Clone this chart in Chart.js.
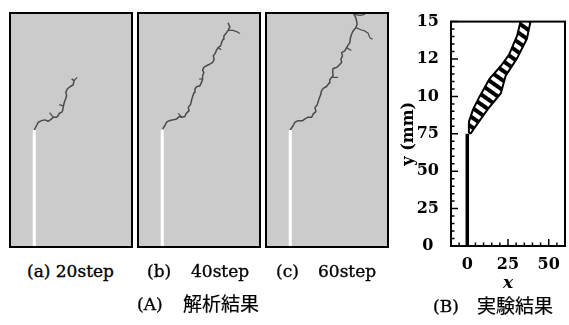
<!DOCTYPE html>
<html>
<head>
<meta charset="utf-8">
<script src="https://cdn.jsdelivr.net/npm/chart.js@4.4.1/dist/chart.umd.min.js"></script>
<style>
  body { margin: 0; background: #fff; width: 569px; height: 325px; position: relative; overflow: hidden; font-family: "DejaVu Serif", serif; color: #000; }
  canvas { position: absolute; }
  .cap { position: absolute; font-size: 17px; line-height: 20px; white-space: nowrap; -webkit-text-stroke: 0.35px #000; }
  .jp { font-family: "Noto Sans CJK JP", sans-serif; font-size: 19px; -webkit-text-stroke: 0.2px #000; }
</style>
</head>
<body>
<canvas id="p20" width="128" height="240" style="left:7px;top:10px"></canvas>
<canvas id="p40" width="128" height="240" style="left:135px;top:10px"></canvas>
<canvas id="p60" width="128" height="240" style="left:263px;top:10px"></canvas>
<canvas id="exp" width="174" height="295" style="left:395px;top:0"></canvas>

<div class="cap" style="left:27px;top:261px">(a) 20step</div>
<div class="cap" style="left:147px;top:261px">(b)</div>
<div class="cap" style="left:191px;top:261px">40step</div>
<div class="cap" style="left:276px;top:261px">(c)</div>
<div class="cap" style="left:318px;top:261px">60step</div>
<div class="cap" style="left:137px;top:294px">(A)</div>
<div class="cap jp" style="left:183px;top:293px">解析結果</div>
<div class="cap" style="left:433px;top:296px">(B)</div>
<div class="cap jp" style="left:477px;top:295px">実験結果</div>

<script>
// analysis panels: specimen coordinates in mm (x 0..78, y 0..150)
const NOTCH = [[15.5, 0], [15.5, 75]]

const CRACK_20 = [[15.5,75],[17.0,77.9],[18.1,80.0],[20.2,81.0],[22.3,81.5],[24.4,80.6],[26.6,82.1],[27.6,83.2],[29.8,83.2],[30.8,84.2],[31.5,85.7],[33.0,86.3],[33.6,87.4],[34.0,89.5],[34.7,92.7],[35.5,94.9],[36.2,97.0],[35.7,99.1],[36.6,101.3],[38.3,102.7],[40.4,104.0],[41.0,106.6],[39.4,107.7]]
const BRANCH_20 = [[[41.0,106.6],[42.9,108.7]], [[27.6,83.2],[25.3,86.1]], [[34.0,90.5],[31.5,91.3]]]

const CRACK_40 = [[15.8,75.7],[17.2,77.9],[18.3,80.0],[20.0,81.0],[22.5,81.5],[24.7,82.1],[26.4,83.6],[27.9,83.2],[30.0,83.6],[30.6,85.3],[31.5,86.3],[32.7,87.4],[32.1,89.5],[33.6,91.3],[34.3,94.3],[34.9,96.4],[35.9,99.1],[36.4,101.3],[37.5,102.7],[39.6,103.4],[40.6,105.5],[41.3,107.7],[41.3,109.8],[42.1,111.9],[41.3,113.4],[42.1,115.1],[43.8,116.2],[45.9,117.2],[47.7,118.3],[48.7,120.4],[48.1,122.5],[49.3,124.0],[50.2,126.2],[51.2,127.8],[52.8,128.9],[53.4,131.0],[54.4,133.2],[54.9,135.3],[56.2,136.8],[57.6,138.9],[58.7,141.0],[57.6,143.8]]
const BRANCH_40 = [[[57.6,138.9],[60.8,138.9],[63.0,138.1],[65.1,136.8]], [[27.9,83.2],[25.7,85.7]], [[41.3,107.7],[39.1,107.7]], [[51.2,127.8],[53.2,126.5]]]

const CRACK_60 = [[15.3,74.7],[17.4,77.9],[18.5,80.0],[20.6,81.0],[23.4,81.0],[24.9,82.1],[27.0,83.2],[29.2,83.2],[30.2,85.3],[31.9,86.8],[31.3,89.5],[32.7,91.1],[33.4,93.2],[34.0,95.3],[34.9,97.4],[35.5,100.2],[36.6,101.7],[38.7,102.9],[40.4,105.1],[40.8,107.2],[41.9,108.7],[42.9,109.8],[42.6,112.3],[42.9,114.4],[45.1,115.1],[46.8,116.6],[48.3,118.3],[47.9,120.4],[48.9,122.5],[48.3,124.6],[50.4,125.7],[51.5,127.8],[52.5,129.4],[53.6,131.0],[54.0,134.2],[54.7,136.4],[55.7,138.5],[57.4,140.6],[58.3,142.8],[57.9,144.9],[57.4,147.0],[56.2,149.1],[57.0,151]]
const BRANCH_60 = [[[57.4,140.6],[61.1,139.1],[63.2,138.5],[65.3,137.0],[66.4,134.2],[68.1,133.2]], [[56.2,149.1],[60.0,148.5],[63.2,149.1]], [[41.9,108.7],[46.1,108.7]], [[51.5,127.8],[54.5,125.9]]]

// experiment: crack band boundaries (x, y in mm)
const EXP_NOTCH = [[0, 0], [0, 75]]
const BAND_LEFT = [[1,75.4],[1,83],[3.6,91.5],[7.6,100],[13.6,111.7],[20.6,120.3],[25.6,127.8],[30.6,140.6],[32.9,151]]
const BAND_RIGHT = [[39,151],[36.6,138.5],[30.6,125.6],[23.6,113.9],[20.6,102.1],[12.6,91.5],[5.6,80.8],[2.2,75.4]]

const X_TICKS = [0, 25, 50]
const Y_TICKS = [0, 25, 50, 75, 100, 125, 150]
const Y_TICK_LABELS = ["0", "25", "50", "75", "10", "12", "15"]

const CRACK_COLOR = "#4a4a4a"
const xy = pts => pts.map(([x, y]) => ({ x, y }))

Chart.defaults.font.family = "'DejaVu Serif', serif"

const panelFrame = {
  id: "panelFrame",
  beforeDatasetsDraw(chart) {
    const { ctx, chartArea: a } = chart
    ctx.save()
    ctx.fillStyle = "#cbcbcb"
    ctx.fillRect(a.left, a.top, a.width, a.height)
    ctx.restore()
  },
  afterDraw(chart) {
    const { ctx, chartArea: a } = chart
    ctx.save()
    ctx.strokeStyle = "#000"
    ctx.lineWidth = 2
    ctx.strokeRect(a.left, a.top, a.width, a.height)
    ctx.restore()
  }
}

function panelChart(id, crack, branches) {
  new Chart(document.getElementById(id), {
    type: "line",
    data: {
      datasets: [
        { data: xy(NOTCH), borderColor: "#fff", borderWidth: 3 },
        { data: xy(crack), borderColor: CRACK_COLOR, borderWidth: 1.5 },
        ...branches.map(b => ({ data: xy(b), borderColor: CRACK_COLOR, borderWidth: 1.2 }))
      ]
    },
    options: {
      responsive: false,
      animation: false,
      events: [],
      layout: { padding: 3 },
      elements: { point: { radius: 0 }, line: { tension: 0, borderJoinStyle: "round" } },
      plugins: { legend: { display: false }, tooltip: { enabled: false } },
      scales: {
        x: { type: "linear", min: 0, max: 78, display: false },
        y: { min: 0, max: 150, display: false }
      }
    },
    plugins: [panelFrame]
  })
}

panelChart("p20", CRACK_20, BRANCH_20)
panelChart("p40", CRACK_40, BRANCH_40)
panelChart("p60", CRACK_60, BRANCH_60)

// hatching for the crack band
function hatch() {
  const c = document.createElement("canvas")
  c.width = 8; c.height = 8
  const g = c.getContext("2d")
  g.fillStyle = "#fff"
  g.fillRect(0, 0, 8, 8)
  g.fillStyle = "#000"
  g.fillRect(0, 2, 8, 4)
  const p = g.createPattern(c, "repeat")
  p.setTransform(new DOMMatrix().rotateSelf(35))
  return p
}

const tickMarks = {
  id: "tickMarks",
  afterDraw(chart) {
    const { ctx, chartArea: a, scales: { x, y } } = chart
    ctx.save()
    ctx.strokeStyle = "#000"
    ctx.lineWidth = 1.5
    ctx.beginPath()
    for (let v = y.min; v <= y.max; v += 5) {
      const py = y.getPixelForValue(v)
      ctx.moveTo(a.left, py)
      ctx.lineTo(a.left + (v % 25 === 0 ? 7 : 3.5), py)
    }
    for (let v = x.min; v <= x.max; v += 5) {
      const px = x.getPixelForValue(v)
      ctx.moveTo(px, a.bottom)
      ctx.lineTo(px, a.bottom - (v % 25 === 0 ? 7 : 3.5))
    }
    ctx.stroke()
    ctx.lineWidth = 2
    ctx.strokeRect(a.left, a.top, a.width, a.height)
    ctx.restore()
  }
}

const band = [...BAND_LEFT, ...BAND_RIGHT, BAND_LEFT[0]]
const tickFont = { size: 16, weight: "bold" }

new Chart(document.getElementById("exp"), {
  type: "line",
  data: {
    datasets: [
      { data: xy(band), borderColor: "#000", borderWidth: 2, backgroundColor: hatch(), fill: "shape" },
      { data: xy(EXP_NOTCH), borderColor: "#000", borderWidth: 3.5 }
    ]
  },
  options: {
    responsive: false,
    animation: false,
    events: [],
    layout: { padding: { top: 12, right: 1, left: 0, bottom: 0 } },
    elements: { point: { radius: 0 }, line: { tension: 0, borderJoinStyle: "round" } },
    plugins: { legend: { display: false }, tooltip: { enabled: false } },
    scales: {
      x: {
        type: "linear", min: -10, max: 60,
        afterBuildTicks: s => { s.ticks = X_TICKS.map(v => ({ value: v })) },
        afterFit: s => { s.height = 49 },
        grid: { display: false, drawTicks: false },
        border: { display: false },
        ticks: { padding: 9, color: "#000", maxRotation: 0, autoSkip: false, font: tickFont },
        title: { display: true, text: "x", color: "#000", padding: { top: 0, bottom: 1 }, font: { size: 17, style: "italic", weight: "bold" } }
      },
      y: {
        min: 0, max: 150,
        afterBuildTicks: s => { s.ticks = Y_TICKS.map(v => ({ value: v })) },
        afterFit: s => { s.width = 56 },
        grid: { display: false, drawTicks: false },
        border: { display: false },
        ticks: {
          padding: 12, crossAlign: "center", color: "#000", autoSkip: false,
          font: tickFont,
          callback: v => Y_TICK_LABELS[Y_TICKS.indexOf(v)]
        },
        title: { display: true, text: "y (mm)", color: "#000", padding: { top: 4, bottom: 0 }, font: { size: 16, weight: "bold" } }
      }
    }
  },
  plugins: [tickMarks]
})
</script>
</body>
</html>
